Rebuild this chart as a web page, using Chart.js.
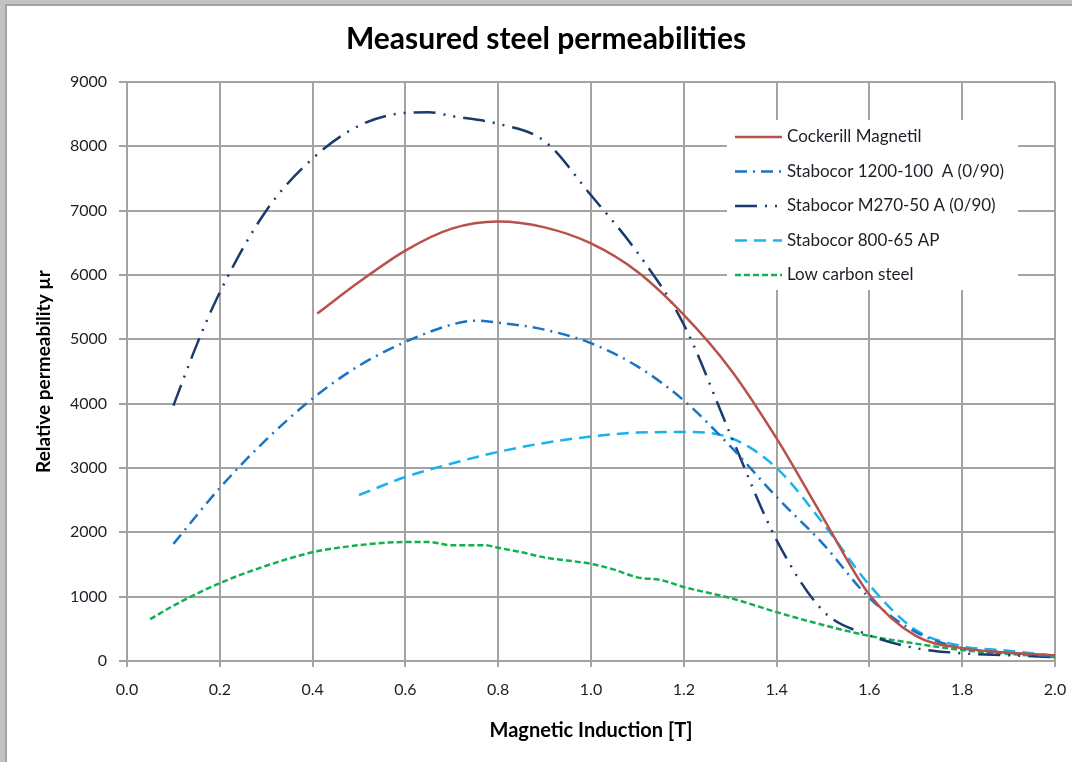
<!DOCTYPE html>
<html>
<head>
<meta charset="utf-8">
<script src="https://cdn.jsdelivr.net/npm/chart.js@4.4.1/dist/chart.umd.min.js"></script>
<style>
  html, body { margin: 0; padding: 0; }
  body { width: 1072px; height: 762px; background: #c2c2c2; overflow: hidden; position: relative; }
  #frame { position: absolute; left: 5px; top: 4px; right: -6px; bottom: -6px; background: #fff; border: 2px solid #a3a3a3; }
  #wrap { position: absolute; left: 0; top: 0; width: 1072px; height: 762px; }
</style>
</head>
<body>
<div id="frame"></div>
<div id="wrap"><canvas id="chart" width="1072" height="762"></canvas></div>
<script>
    "use strict";

    // magnetic induction B [T] and relative permeability
    const cockerillB = [0.41, 0.5, 0.6, 0.7, 0.8, 0.9, 1.0, 1.1, 1.2, 1.3, 1.4, 1.5, 1.6, 1.7, 1.8, 1.9, 2.0];
    const cockerillMu = [5400, 5890, 6380, 6720, 6830, 6740, 6490, 6050, 5380, 4540, 3460, 2230, 1030, 390, 200, 130, 90];

    const stab1200B = [0.1, 0.2, 0.3, 0.4, 0.5, 0.6, 0.7, 0.75, 0.8, 0.9, 1.0, 1.1, 1.2, 1.3, 1.4, 1.5, 1.6, 1.7, 1.8, 1.9, 2.0];
    const stab1200Mu = [1820, 2690, 3440, 4080, 4590, 4960, 5230, 5290, 5260, 5150, 4940, 4580, 4050, 3340, 2550, 1820, 980, 450, 200, 130, 70];

    const stabM270B = [0.1, 0.15, 0.2, 0.3, 0.4, 0.5, 0.6, 0.65, 0.7, 0.8, 0.9, 1.0, 1.1, 1.2, 1.3, 1.4, 1.5, 1.6, 1.7, 1.8, 1.9, 2.0];
    const stabM270Mu = [3970, 4910, 5730, 7000, 7810, 8320, 8520, 8530, 8470, 8350, 8080, 7240, 6350, 5230, 3530, 1880, 780, 400, 200, 120, 90, 60];

    const stab800B = [0.5, 0.6, 0.7, 0.8, 0.9, 1.0, 1.1, 1.2, 1.3, 1.4, 1.5, 1.6, 1.7, 1.8, 1.9, 2.0];
    const stab800Mu = [2580, 2860, 3070, 3250, 3390, 3490, 3550, 3560, 3470, 3000, 2140, 1180, 480, 230, 160, 80];

    const lowCarbonB = [0.05, 0.1, 0.2, 0.3, 0.4, 0.5, 0.6, 0.65, 0.7, 0.77, 0.8, 0.85, 0.9, 1.0, 1.05, 1.1, 1.15, 1.2, 1.3, 1.4, 1.5, 1.6, 1.7, 1.8, 1.9, 2.0];
    const lowCarbonMu = [650, 860, 1210, 1480, 1690, 1800, 1850, 1850, 1800, 1800, 1760, 1690, 1610, 1510, 1420, 1300, 1260, 1150, 980, 760, 560, 390, 270, 170, 110, 60];

    const seriesNames = ['Cockerill Magnetil', 'Stabocor 1200-100  A (0/90)', 'Stabocor M270-50 A (0/90)', 'Stabocor 800-65 AP', 'Low carbon steel'];

    const gridColor = '#a3a3a3';
    const textColor = '#1e1e28';
    const font = 'Lato';

    function points(xs, ys) {
        return xs.map((x, i) => ({ x: x, y: ys[i] }));
    }

    function series(label, xs, ys, color, dash) {
        return {
            label: label,
            data: points(xs, ys),
            borderColor: color,
            borderWidth: 2.5,
            borderDash: dash,
            pointRadius: 0,
            fill: false,
            cubicInterpolationMode: 'monotone'
        };
    }

    // legend sitting inside the plot, on a white box that hides the grid
    const boxLegend = {
        id: 'boxLegend',
        afterDraw(chart, args, opts) {
            const ctx = chart.ctx;
            ctx.save();
            ctx.fillStyle = '#fff';
            ctx.fillRect(opts.left, opts.top, opts.width, opts.height);
            ctx.font = opts.font;
            ctx.textBaseline = 'middle';
            chart.data.datasets.forEach((ds, i) => {
                const y = opts.firstRow + i * opts.rowGap;
                ctx.beginPath();
                ctx.strokeStyle = ds.borderColor;
                ctx.lineWidth = ds.borderWidth;
                ctx.setLineDash(ds.borderDash || []);
                ctx.moveTo(opts.lineStart, y);
                ctx.lineTo(opts.lineEnd, y);
                ctx.stroke();
                ctx.setLineDash([]);
                ctx.fillStyle = textColor;
                ctx.fillText(ds.label, opts.textStart, y);
            });
            ctx.restore();
        }
    };

    new Chart(document.getElementById('chart'), {
        type: 'line',
        data: {
            datasets: [
                series(seriesNames[0], cockerillB, cockerillMu, '#b8504b', []),
                series(seriesNames[1], stab1200B, stab1200Mu, '#1874c4', [12, 6, 2, 6]),
                series(seriesNames[2], stabM270B, stabM270Mu, '#1b3a6e', [22, 8, 2, 8, 2, 8]),
                series(seriesNames[3], stab800B, stab800Mu, '#1ab2ee', [12, 7]),
                series(seriesNames[4], lowCarbonB, lowCarbonMu, '#12b04e', [6, 3])
            ]
        },
        options: {
            responsive: false,
            animation: false,
            layout: { padding: { left: 37, right: 17, top: 0, bottom: 0 } },
            plugins: {
                legend: { display: false },
                tooltip: { enabled: false },
                title: {
                    display: true,
                    text: 'Measured steel permeabilities',
                    color: '#000',
                    font: { family: font, size: 30, weight: 'bold', lineHeight: 1.2 },
                    padding: { top: 21, bottom: 25 }
                },
                boxLegend: {
                    left: 727, top: 120, width: 291, height: 170,
                    firstRow: 137, rowGap: 34.5,
                    lineStart: 735, lineEnd: 782, textStart: 787,
                    font: '17px ' + font
                }
            },
            scales: {
                x: {
                    type: 'linear',
                    min: 0,
                    max: 2,
                    afterFit: (s) => {
                        s.height = 101;
                        s.paddingLeft = 0;
                        s.paddingRight = 0;
                    },
                    ticks: {
                        stepSize: 0.2,
                        padding: 13,
                        color: textColor,
                        font: { family: font, size: 16 },
                        callback: (v) => v.toFixed(1)
                    },
                    grid: { color: gridColor, lineWidth: 2, tickLength: 6 },
                    border: { color: gridColor, width: 2 },
                    title: {
                        display: true,
                        text: 'Magnetic Induction [T]',
                        color: '#000',
                        font: { family: font, size: 20, weight: 'bold', lineHeight: 1.2 },
                        padding: { top: 19, bottom: 19 }
                    }
                },
                y: {
                    min: 0,
                    max: 9000,
                    afterFit: (s) => { s.width = 90; },
                    ticks: {
                        stepSize: 1000,
                        padding: 12,
                        color: textColor,
                        font: { family: font, size: 16 },
                        callback: (v) => String(v)
                    },
                    grid: { color: gridColor, lineWidth: 2, tickLength: 8 },
                    border: { color: gridColor, width: 2 },
                    title: {
                        display: true,
                        text: 'Relative permeability µr',
                        color: '#000',
                        font: { family: font, size: 19, weight: 'bold', lineHeight: 1.2 },
                        padding: { top: -4.4, bottom: -4.4 }
                    }
                }
            }
        },
        plugins: [boxLegend]
    });
</script>
</body>
</html>
